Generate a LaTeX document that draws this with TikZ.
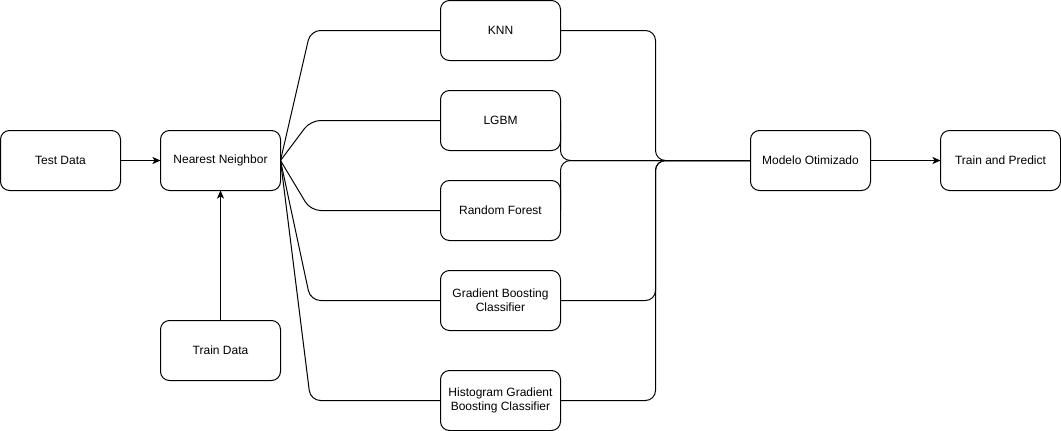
\documentclass[tikz,border=0pt]{standalone}
\usepackage{fontspec}
\setmainfont{Liberation Sans}
\usetikzlibrary{arrows.meta}
\begin{document}
\begin{tikzpicture}[x=1pt,y=-1pt,
  box/.style={draw=black,line width=1pt,rounded corners=9pt,minimum width=120pt,minimum height=60pt,inner sep=0pt,outer sep=0pt,align=center,font=\fontsize{12pt}{14pt}\selectfont},
  link/.style={draw=black,line width=1pt,rounded corners=10pt},
  arr/.style={draw=black,line width=1pt,-{Stealth[length=8pt,width=7pt,inset=2pt]}}]
\useasboundingbox (0,0) rectangle (1061,431);
\node[box] (test) at (60.5,160.5) {Test Data};
\node[box] (nn) at (220.5,160.5) {Nearest Neighbor};
\node[box] (train) at (220.5,350.5) {Train Data};
\node[box] (knn) at (500.5,30.5) {KNN};
\node[box] (lgbm) at (500.5,120.5) {LGBM};
\node[box] (rf) at (500.5,210.5) {Random Forest};
\node[box] (gb) at (500.5,300.5) {Gradient Boosting\\Classifier};
\node[box] (hgb) at (500.5,400.5) {Histogram Gradient\\Boosting Classifier};
\node[box] (mo) at (810.5,160.5) {Modelo Otimizado};
\node[box] (tp) at (1000.5,160.5) {Train and Predict};
\coordinate (hub) at ([xshift=-95pt]mo.west);
\draw[arr] (test.east) -- (nn.west);
\draw[arr] (train.north) -- (nn.south);
\draw[arr] (mo.east) -- (tp.west);
\foreach \m in {knn,lgbm,rf,gb,hgb}{
  \draw[link] (nn.east) -- ([xshift=-130pt]\m.west) -- (\m.west);
}
\draw[link] (knn.east) -| (hub) -- (mo.west);
\draw[link] (gb.east) -| (hub) -- (mo.west);
\draw[link] (hgb.east) -| (hub) -- (mo.west);
\draw[link] (lgbm.east) |- (mo.west);
\draw[link] (rf.east) |- (mo.west);
\end{tikzpicture}
\end{document}
